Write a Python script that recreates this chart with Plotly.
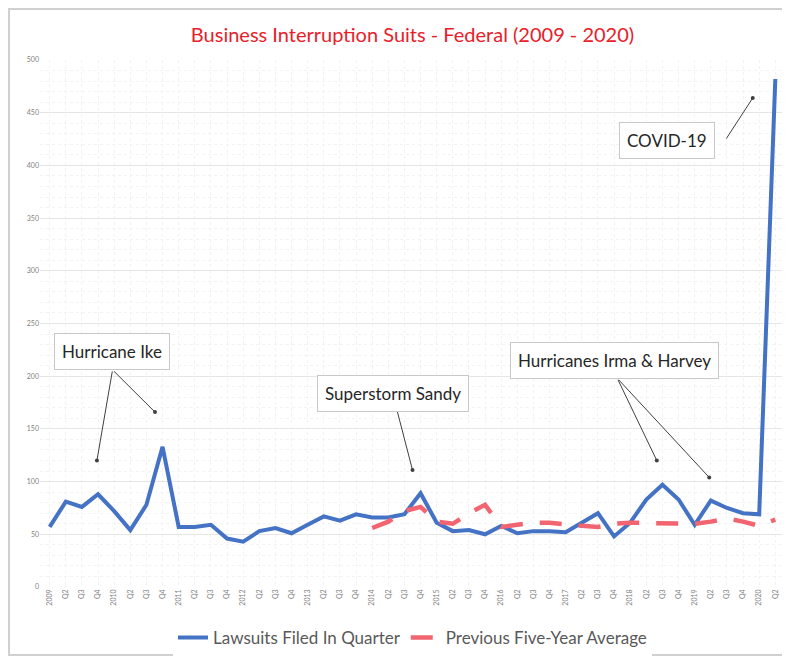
import plotly.graph_objects as go

# quarters 2009 Q1 .. 2020 Q2
years = list(range(2009, 2021))
tick_labels = []
for yr in years:
    for q in ["Q1", "Q2", "Q3", "Q4"]:
        tick_labels.append(str(yr) if q == "Q1" else q)
tick_labels = tick_labels[:46]
quarter_idx = list(range(len(tick_labels)))

lawsuits = [57, 81, 76, 88, 72, 54, 78, 133, 57, 57, 59, 46, 43, 53, 56, 51,
            59, 67, 63, 69, 66, 66, 69, 89, 61, 53, 54, 50, 58, 51, 53, 53,
            52, 61, 70, 48, 61, 83, 97, 83, 59, 82, 75, 70, 69, 482]

# previous five-year average starts at 2014 Q1
avg_idx = quarter_idx[20:]
five_year_avg = [56, 62, 72, 76, 62, 60, 70, 78, 57, 59, 61, 61, 59, 58, 57, 60,
                 61, 61, 61, 61, 60, 62, 65, 62, 58, 64]

# text, box centre (x, y), arrows as ((tail x, tail y), (head x, head y))
callouts = [
    ("Hurricane Ike", (3.86, 223), [((3.9, 206), (2.93, 120)), ((3.9, 206), (6.53, 166))]),
    ("Superstorm Sandy", (21.3, 184), [((21.5, 170), (22.5, 111))]),
    ("Hurricanes Irma & Harvey", (35.0, 215), [((35.2, 198), (37.65, 120)), ((35.2, 198), (40.9, 104))]),
    ("COVID-19", (38.3, 424), [((41.9, 424), (43.6, 464))]),
]

fig = go.Figure()
fig.add_trace(go.Scatter(
    x=quarter_idx, y=lawsuits, mode="lines", name="Lawsuits Filed In Quarter",
    line=dict(color="#4472C4", width=4),
))
fig.add_trace(go.Scatter(
    x=avg_idx, y=five_year_avg, mode="lines", name="Previous Five-Year Average",
    line=dict(color="#F2646F", width=4.5, dash="22px,17px"),
))

anns = []
for text, (bx, by), arrows in callouts:
    for (tx, ty), (hx, hy) in arrows:
        anns.append(dict(
            x=hx, y=hy, xref="x", yref="y", ax=tx, ay=ty, axref="x", ayref="y",
            text="", showarrow=True, arrowhead=6, arrowsize=1, arrowwidth=1,
            arrowcolor="#404040", standoff=0, startstandoff=0,
        ))
    anns.append(dict(
        x=bx, y=by, xref="x", yref="y", text=text, showarrow=False,
        font=dict(family="Lato", size=17, color="#262626"),
        bgcolor="white", bordercolor="#c8c8c8", borderwidth=1, borderpad=7,
    ))

# page body adds an 8px offset, so the figure is 8px smaller than the window
fig.update_layout(
    width=782, height=652,
    margin=dict(l=32, r=5, t=52, b=73, autoexpand=False),
    paper_bgcolor="white", plot_bgcolor="white",
    title=dict(text="Business Interruption Suits - Federal (2009 - 2020)",
               x=0.5, xanchor="center", xref="paper",
               yref="container", y=0.958, yanchor="middle",
               font=dict(family="Lato", size=20, color="#E8202A")),
    font=dict(family="Lato", color="#595959"),
    showlegend=True,
    legend=dict(orientation="h", x=0.5, xanchor="center",
                yref="container", y=0.034, yanchor="middle",
                font=dict(size=17, color="#595959"), itemwidth=30,
                traceorder="normal"),
    annotations=anns,
    shapes=[dict(type="rect", xref="paper", yref="paper",
                 x0=-0.0416, x1=1.0013, y0=-0.129, y1=1.097,
                 line=dict(color="#d0d0d0", width=2))],
)
fig.update_xaxes(
    range=[-0.6, 45.6], tickmode="array", tickvals=quarter_idx, ticktext=tick_labels,
    tickangle=-90, tickfont=dict(size=7, color="#7f7f7f"), automargin=False,
    showgrid=True, gridcolor="#f2f2f2", gridwidth=1, griddash="dot",
    zeroline=False, showline=False, ticks="",
)
fig.update_yaxes(
    range=[0, 500], dtick=50, tickfont=dict(size=7, color="#7f7f7f"), automargin=False,
    showgrid=True, gridcolor="#e6e6e6", zeroline=False,
    minor=dict(dtick=10, showgrid=True, gridcolor="#f3f3f3", griddash="dot"),
    showline=False, ticks="",
)

fig.write_html("out.html")
